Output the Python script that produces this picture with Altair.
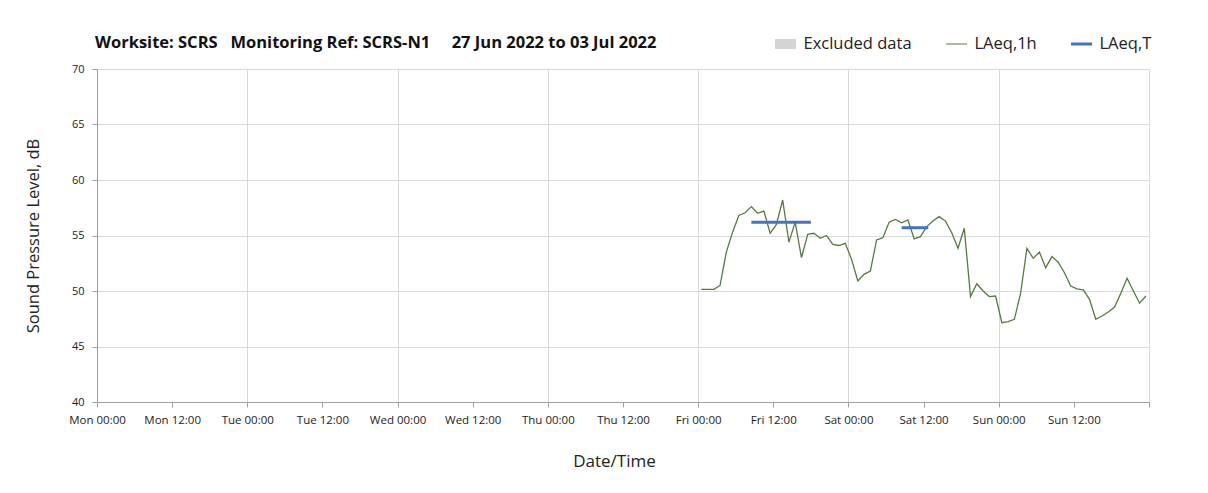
import altair as alt
import pandas as pd

# ---- data ----
series_names = ["Excluded data", "LAeq,1h", "LAeq,T"]
series_colors = ["#d4d4d4", "#587a42", "#4472c4"]

start_1h = "2022-07-01 00:30"
laeq_1h = [
    50.15, 50.15, 50.15, 50.5, 53.5, 55.3, 56.8, 57.05, 57.6, 57.0,
    57.2, 55.2, 56.0, 58.2, 54.4, 56.2, 53.0, 55.1, 55.2, 54.75,
    55.0, 54.2, 54.1, 54.3, 52.85, 50.9, 51.5, 51.8, 54.6, 54.8,
    56.2, 56.45, 56.15, 56.4, 54.7, 54.9, 55.8, 56.3, 56.7, 56.3,
    55.25, 53.85, 55.65, 49.5, 50.65, 50.0, 49.5, 49.55, 47.15, 47.25,
    47.45, 49.8, 53.85, 52.95, 53.5, 52.1, 53.1, 52.6, 51.65, 50.45,
    50.2, 50.1, 49.25, 47.45, 47.75, 48.1, 48.55, 49.8, 51.15, 50.0,
    48.9, 49.55,
]

laeq_t_start = ["2022-07-01 08:30", "2022-07-02 08:30"]
laeq_t_end = ["2022-07-01 18:00", "2022-07-02 12:45"]
laeq_t_value = [56.2, 55.7]

title_text = ("Worksite: SCRS\u00a0\u00a0\u00a0Monitoring Ref: SCRS-N1"
              "\u00a0\u00a0\u00a0\u00a0\u00a027 Jun 2022 to 03 Jul 2022")

# ---- tables ----
times = pd.date_range(start_1h, periods=len(laeq_1h), freq="h")
df_1h = pd.DataFrame({
    "time": times.strftime("%Y-%m-%dT%H:%M:%S"),
    "level": laeq_1h,
    "series": "LAeq,1h",
})
df_t = pd.DataFrame({
    "start": pd.to_datetime(laeq_t_start).strftime("%Y-%m-%dT%H:%M:%S"),
    "end": pd.to_datetime(laeq_t_end).strftime("%Y-%m-%dT%H:%M:%S"),
    "level": laeq_t_value,
    "series": "LAeq,T",
})

FONT = "Open Sans"
tick_values = [alt.DateTime(year=2022, month=6 if d < 4 else 7,
                            date=(27 + d) if d < 4 else (d - 3),
                            hours=h)
               for d in range(7) for h in (0, 12)]
tick_values.append(alt.DateTime(year=2022, month=7, date=4, hours=0))

x_scale = alt.Scale(domain=[alt.DateTime(year=2022, month=6, date=27),
                            alt.DateTime(year=2022, month=7, date=4)])
y_scale = alt.Scale(domain=[40, 70], nice=False, zero=False)

x_axis = alt.Axis(
    title="Date/Time",
    values=tick_values,
    labelExpr="datum.value >= datetime(2022, 6, 4) ? '' : timeFormat(datum.value, '%a %H:%M')",
    labelFont=FONT, labelFontSize=11.5, labelColor="#222222",
    labelPadding=7, labelAngle=0, labelOverlap=False, labelFlush=False,
    titleFont=FONT, titleFontSize=17, titleFontWeight="normal",
    titleColor="#222222", titlePadding=28, titleX=517,
    grid=True, gridColor="#d9d9d9",
    gridOpacity={"condition": {"test": "hours(datum.value) == 0", "value": 1}, "value": 0},
    domainColor="#a0a0a0", tickColor="#a0a0a0", tickSize=5,
)
y_axis = alt.Axis(
    title="Sound Pressure Level, dB",
    values=[40, 45, 50, 55, 60, 65, 70],
    labelFont=FONT, labelFontSize=11, labelColor="#222222", labelPadding=8,
    titleFont=FONT, titleFontSize=16.5, titleFontWeight="normal",
    titleColor="#222222", titlePadding=30,
    grid=True, gridColor="#d9d9d9",
    domainColor="#a0a0a0", tickColor="#a0a0a0", tickSize=5,
)

color_scale = alt.Scale(domain=series_names, range=series_colors)
legend = alt.Legend(
    title=None, orient="none", direction="horizontal",
    legendX=678, legendY=-35,
    symbolType="stroke", symbolSize=660, clipHeight=20,
    symbolStrokeWidth={"expr": "datum.value == 'Excluded data' ? 10 : (datum.value == 'LAeq,T' ? 3 : 1.2)"},
    labelFont=FONT, labelFontSize=16.5, labelColor="#222222",
    labelOffset=12, columnPadding=34,
)

line = alt.Chart(df_1h).mark_line(strokeWidth=1.3).encode(
    x=alt.X("time:T", scale=x_scale, axis=x_axis),
    y=alt.Y("level:Q", scale=y_scale, axis=y_axis),
    color=alt.Color("series:N", scale=color_scale, legend=legend),
)

rules = alt.Chart(df_t).mark_rule(strokeWidth=3).encode(
    x=alt.X("start:T", scale=x_scale),
    x2="end:T",
    y=alt.Y("level:Q", scale=y_scale),
    color=alt.Color("series:N", scale=color_scale, legend=legend),
)

chart = alt.layer(line, rules).properties(
    width=1052, height=333,
    title=alt.TitleParams(text=title_text, anchor="start", frame="group",
                          font=FONT, fontSize=16.5, fontWeight="bold",
                          color="#111111", offset=0, dx=-2, dy=17),
    padding={"left": 89, "top": 61, "right": 20, "bottom": 85},
    autosize=alt.AutoSizeParams(type="none"),
).configure_view(stroke=None).configure(background="white")

chart.save("out.html", embed_options={"renderer": "svg", "actions": False})
